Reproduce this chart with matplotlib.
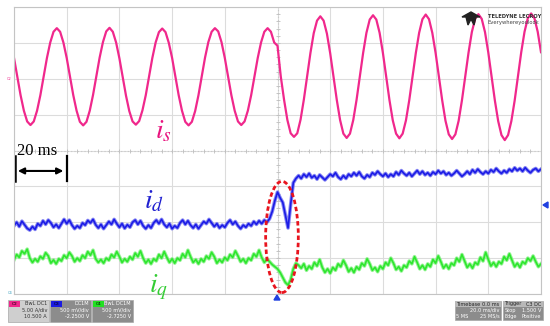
import numpy as np
import matplotlib.pyplot as plt
from matplotlib.patches import Ellipse, Rectangle, Polygon

plt.rcParams['mathtext.fontset'] = 'stix'

# scope time base (ms), screen units are divisions (0..8)
t_is = np.arange(0, 200.01, 1.25)
t_dq = np.arange(0, 201, 1.0)

i_s = [6.58, 6.06, 5.54, 5.11, 4.81, 4.71, 4.81, 5.11, 5.54, 6.06, 6.58, 7.01, 7.31, 7.41, 7.31, 7.01,
       6.58, 6.06, 5.54, 5.11, 4.80, 4.70, 4.80, 5.11, 5.55, 6.07, 6.59, 7.02, 7.32, 7.42, 7.31, 7.01,
       6.57, 6.05, 5.53, 5.10, 4.81, 4.72, 4.82, 5.12, 5.54, 6.06, 6.58, 7.01, 7.30, 7.40, 7.30, 7.00,
       6.58, 6.06, 5.54, 5.11, 4.80, 4.70, 4.80, 5.10, 5.54, 6.06, 6.59, 7.02, 7.31, 7.41, 7.32, 7.02,
       6.58, 6.06, 5.54, 5.11, 4.81, 4.71, 4.81, 5.11, 5.54, 6.06, 6.58, 7.01, 7.31, 7.41, 7.31, 7.01,
       6.92, 6.06, 5.41, 4.85, 4.48, 4.38, 4.48, 4.86, 5.42, 6.07, 6.72, 7.27, 7.62, 7.74, 7.62, 7.26,
       6.71, 6.06, 5.41, 4.85, 4.47, 4.35, 4.47, 4.85, 5.41, 6.06, 6.72, 7.28, 7.65, 7.77, 7.65, 7.28,
       6.72, 6.06, 5.40, 4.84, 4.47, 4.34, 4.47, 4.84, 5.40, 6.06, 6.72, 7.28, 7.66, 7.79, 7.66, 7.28,
       6.72, 6.06, 5.40, 4.83, 4.45, 4.32, 4.45, 4.83, 5.40, 6.06, 6.73, 7.30, 7.67, 7.80, 7.67, 7.30,
       6.73, 6.06, 5.39, 4.82, 4.43, 4.29, 4.43, 4.82, 5.39, 6.06, 6.74, 7.31, 7.69, 7.82, 7.69, 7.31,
       6.74]

i_d = [1.90, 2.00, 1.88, 2.03, 1.93, 1.83, 1.78, 1.88, 1.80, 1.96,
       1.90, 2.04, 1.94, 2.06, 1.98, 1.86, 1.94, 1.84, 1.96, 2.08,
       1.96, 2.06, 1.92, 1.82, 1.90, 1.84, 1.98, 1.92, 2.05, 1.98,
       2.08, 1.93, 1.84, 1.94, 1.82, 1.92, 2.02, 1.94, 2.08, 1.96,
       1.86, 1.96, 1.83, 1.93, 1.86, 2.00, 2.06, 1.94, 2.04, 1.90,
       1.82, 1.92, 1.84, 1.98, 2.06, 1.96, 2.08, 1.94, 1.86, 1.96,
       1.82, 1.90, 1.84, 1.98, 2.06, 1.94, 2.04, 1.92, 1.84, 1.94,
       1.82, 1.92, 2.02, 1.96, 2.08, 1.98, 1.88, 1.96, 1.84, 1.92,
       1.86, 1.98, 2.06, 1.94, 2.02, 1.90, 1.82, 1.92, 1.86, 1.96,
       1.90, 2.02, 1.94, 2.04, 1.96, 2.06, 2.00, 2.10, 2.30, 2.60,
       2.84, 2.68, 2.55, 2.20, 1.84, 2.50, 3.10, 3.22, 3.30, 3.22,
       3.34, 3.26, 3.36, 3.24, 3.30, 3.20, 3.32, 3.25, 3.18, 3.26,
       3.34, 3.28, 3.38, 3.26, 3.20, 3.30, 3.22, 3.34, 3.28, 3.38,
       3.30, 3.40, 3.28, 3.22, 3.32, 3.26, 3.38, 3.32, 3.42, 3.34,
       3.28, 3.36, 3.26, 3.34, 3.28, 3.40, 3.32, 3.44, 3.36, 3.30,
       3.38, 3.28, 3.36, 3.44, 3.34, 3.42, 3.32, 3.38, 3.30, 3.40,
       3.34, 3.44, 3.36, 3.42, 3.32, 3.38, 3.30, 3.36, 3.44, 3.36,
       3.28, 3.34, 3.42, 3.34, 3.46, 3.38, 3.48, 3.40, 3.34, 3.42,
       3.36, 3.46, 3.40, 3.50, 3.42, 3.36, 3.44, 3.38, 3.48, 3.42,
       3.52, 3.44, 3.50, 3.42, 3.52, 3.44, 3.38, 3.46, 3.50, 3.42,
       3.48]

i_q = [0.95, 1.10, 1.02, 1.20, 1.12, 1.25, 1.00, 0.88, 0.98, 0.90,
       1.05, 0.98, 1.15, 1.06, 0.86, 0.95, 0.84, 0.98, 0.92, 1.08,
       1.00, 1.16, 1.06, 0.90, 1.00, 0.92, 1.08, 1.00, 1.18, 1.08,
       1.22, 0.98, 0.88, 0.96, 0.86, 1.00, 0.94, 1.10, 1.02, 1.18,
       1.04, 0.88, 0.98, 0.90, 1.04, 0.96, 1.14, 1.04, 1.20, 1.00,
       0.86, 0.96, 0.84, 0.98, 0.92, 1.10, 1.00, 1.18, 1.02, 0.88,
       0.98, 0.86, 1.00, 0.94, 1.12, 1.02, 1.22, 1.04, 0.88, 0.96,
       0.84, 0.98, 0.90, 1.06, 0.98, 1.16, 1.04, 0.86, 0.96, 0.88,
       1.02, 0.94, 1.10, 1.02, 1.20, 1.06, 0.90, 0.98, 0.86, 1.00,
       0.94, 1.12, 1.04, 1.22, 1.02, 0.88, 0.98, 0.90, 0.82, 0.76,
       0.70, 0.60, 0.46, 0.32, 0.25, 0.40, 0.70, 0.86, 0.80, 0.72,
       0.84, 0.66, 0.78, 0.70, 0.88, 0.78, 0.96, 0.74, 0.60, 0.70,
       0.58, 0.74, 0.66, 0.84, 0.76, 0.94, 0.80, 0.62, 0.72, 0.60,
       0.76, 0.68, 0.86, 0.78, 0.98, 0.84, 0.66, 0.74, 0.62, 0.78,
       0.70, 0.88, 0.80, 1.00, 0.86, 0.68, 0.76, 0.64, 0.80, 0.74,
       0.92, 0.84, 1.04, 0.88, 0.70, 0.80, 0.68, 0.84, 0.76, 0.96,
       0.86, 1.06, 0.90, 0.72, 0.82, 0.70, 0.86, 0.80, 1.00, 0.90,
       1.10, 0.92, 0.74, 0.84, 0.72, 0.88, 0.82, 1.02, 0.92, 1.16,
       0.96, 0.78, 0.88, 0.76, 0.90, 0.84, 1.04, 0.94, 1.12, 0.94,
       0.76, 0.86, 0.74, 0.90, 0.84, 1.00, 0.92, 1.06, 0.90, 0.76,
       0.84]

PINK = '#f0288c'
BLUE = '#1c1ce6'
GREEN = '#2ee62e'

W, H = 550, 326
def px(x, y):
    return x / W, 1 - y / H

fig = plt.figure(figsize=(5.5, 3.26), dpi=100)
ax = fig.add_axes([14 / W, 32 / H, 527 / W, 287 / H])
ax.set_xlim(0, 200)
ax.set_ylim(0, 8)
ax.set_xticks(np.arange(0, 201, 20))
ax.set_yticks(np.arange(0, 9, 1))
ax.grid(color='#dcdcdc', lw=0.8)
ax.tick_params(length=0, labelbottom=False, labelleft=False)
for s in ax.spines.values():
    s.set_color('#c4c4c4')
    s.set_linewidth(0.8)

# dotted centre cross with small division ticks
ax.axhline(4, color='#c8c8c8', lw=0.8, ls=(0, (1, 2)))
ax.axvline(100, color='#c8c8c8', lw=0.8, ls=(0, (1, 2)))
ax.plot(np.arange(0, 201, 4), [4] * 51, ls='none', marker='|', ms=3, color='#bdbdbd', mew=0.6)
ax.plot([100] * 41, np.arange(0, 8.01, 0.2), ls='none', marker='_', ms=3, color='#bdbdbd', mew=0.6)

ax.plot(t_is, i_s, color=PINK, lw=1.6, solid_joinstyle='round')
# fuzzy band look of the noisy dq traces
ax.plot(t_dq, i_q, color='#7cf07c', lw=2.6, alpha=0.8)
ax.plot(t_dq, i_q, color=GREEN, lw=1.2)
ax.plot(t_dq, i_d, color='#6a6af0', lw=2.6, alpha=0.8)
ax.plot(t_dq, i_d, color=BLUE, lw=1.2)

ax.add_patch(Ellipse((101.7, 1.59), 12.4, 3.1, fill=False, ec='#e8141e', lw=2.0,
                     ls=(0, (1.6, 1.0)), zorder=5))

# 20 ms scale bar
ax.plot([0.3, 0.3], [3.15, 3.84], color='black', lw=1.8, clip_on=False)
ax.plot([20, 20], [3.15, 3.84], color='black', lw=1.6, clip_on=False)
ax.annotate('', xy=(0.4, 3.43), xytext=(19.8, 3.43),
            arrowprops=dict(arrowstyle='<|-|>', color='black', lw=1.5, mutation_scale=9))
ax.text(1.1, 3.87, '20 ms', fontsize=12, family='Liberation Serif', va='baseline')

# trace labels
fig.text(*px(163.5, 130.5), r'$i_s$', fontsize=20, color='#e8147e', ha='center', va='center')
fig.text(*px(153.5, 200), r'$i_d$', fontsize=20, color='#2020d0', ha='center', va='center')
fig.text(*px(158.5, 287), r'$i_q$', fontsize=20, color='#33cc33', ha='center', va='center')

# small channel / trigger markers
fig.text(*px(9, 79), 'C2', fontsize=2.5, color=PINK, ha='center', va='center')
fig.text(*px(10, 293), 'C4', fontsize=2.5, color='#3aa0c0', ha='center', va='center')
fig.add_artist(Polygon([px(274, 300), px(280, 300), px(277, 295)], closed=True,
                       color='#2040e0', transform=fig.transFigure))
fig.add_artist(Polygon([px(548, 202), px(548, 208), px(543, 205)], closed=True,
                       color='#2040e0', transform=fig.transFigure))

# logo
fig.add_artist(Polygon([px(462, 17), px(471, 12), px(480, 17), px(476, 17), px(474, 25),
                        px(471, 19), px(468, 25), px(466, 17)], closed=True,
                       color='#222222', transform=fig.transFigure))
fig.text(*px(488, 16), 'TELEDYNE LECROY', fontsize=3.7, weight='bold', color='#333333', va='center')
fig.text(*px(488, 22.5), 'Everywhereyoulook', fontsize=3.8, color='#444444', va='center')

# info boxes along the bottom
def info_box(x0, x1, tag, tag_color, lines, light=False):
    bg = '#cfcfcf' if light else '#8c8c8c'
    fg = '#333333' if light else 'white'
    fig.add_artist(Rectangle(px(x0, 322), (x1 - x0) / W, 22 / H, transform=fig.transFigure,
                             fc=bg, ec='#a8a8a8', lw=0.5))
    if tag:
        fig.add_artist(Rectangle(px(x0 + 1, 306.5), 11 / W, 5.5 / H, transform=fig.transFigure,
                                 fc=tag_color, ec='none'))
        fig.text(*px(x0 + 6.5, 303.7), tag, fontsize=3.2, color='black', ha='center', va='center')
    ys = [303.5, 310.5, 317]
    for yy, txt in zip(ys, lines):
        fig.text(*px(x1 - 2, yy), txt, fontsize=3.6, color=fg, ha='right', va='center')

info_box(8, 49, 'C2', PINK, ['BwL DC1', '5.00 A/div', '10.500 A'], light=True)
info_box(50, 91, 'C3', '#1a1ae0', ['DC1M', '500 mV/div', '-2.2500 V'])
info_box(92, 133, 'C4', '#22e022', ['BwL DC1M', '500 mV/div', '-2.7250 V'])

for x0, x1, head, right, rows in [
        (455, 501, 'Timebase', '0.0 ms', [('', '20.0 ms/div'), ('5 MS', '25 MS/s')]),
        (503, 543, 'Trigger', 'C3 DC', [('Stop', '1.500 V'), ('Edge', 'Positive')])]:
    fig.add_artist(Rectangle(px(x0, 320), (x1 - x0) / W, 19 / H, transform=fig.transFigure,
                             fc='#8c8c8c', ec='#a8a8a8', lw=0.5))
    fig.add_artist(Rectangle(px(x0, 307), (x1 - x0) / W, 6 / H, transform=fig.transFigure,
                             fc='#b8b8b8', ec='none'))
    fig.text(*px(x0 + 1.5, 304), head, fontsize=3.6, color='#222222', va='center')
    fig.text(*px(x1 - 1.5, 304), right, fontsize=3.6, color='#222222', va='center', ha='right')
    for yy, (l, r) in zip([310.5, 316.5], rows):
        fig.text(*px(x0 + 1.5, yy), l, fontsize=3.6, color='white', va='center')
        fig.text(*px(x1 - 1.5, yy), r, fontsize=3.6, color='white', va='center', ha='right')

fig.savefig('out.png', dpi=100)
